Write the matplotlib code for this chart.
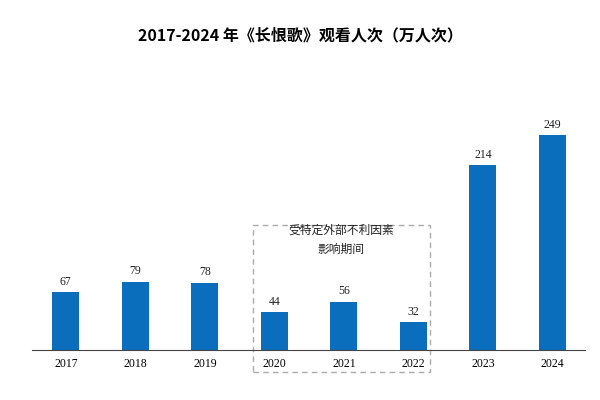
import matplotlib
matplotlib.use("Agg")
import matplotlib.pyplot as plt
from matplotlib.patches import Rectangle
from matplotlib import font_manager as fm
import glob

years = ["2017", "2018", "2019", "2020", "2021", "2022", "2023", "2024"]
values = [67, 79, 78, 44, 56, 32, 214, 249]
title = "2017-2024 年《长恨歌》观看人次（万人次）"
note = "受特定外部不利因素\n影响期间"

cjk_names = [f.name for f in fm.fontManager.ttflist if "CJK" in f.name]
if not cjk_names:
    for p in glob.glob("/usr/share/fonts/**/*CJK*", recursive=True):
        try:
            fm.fontManager.addfont(p)
        except Exception:
            pass
    cjk_names = [f.name for f in fm.fontManager.ttflist if "CJK" in f.name]
pref = [n for n in ["Noto Sans CJK SC", "Noto Sans CJK JP", "Noto Sans CJK TC", "Noto Sans CJK KR"] if n in cjk_names]
cjk = pref[0] if pref else (cjk_names[0] if cjk_names else "DejaVu Sans")

plt.rcParams["font.family"] = ["Liberation Serif", cjk]
fig = plt.figure(figsize=(6, 4), dpi=100)
ax = fig.add_axes([0.053, 0.125, 0.922, 0.648])
x = range(len(years))
ax.bar(x, values, width=0.39, color="#0a6ebd")
for i, v in zip(x, values):
    ax.text(i, v + 5, str(v), ha="center", va="bottom", fontsize=8.5, color="#222")
ax.set_xlim(-0.49, 7.47)
ax.set_ylim(0, 300)
ax.set_xticks(list(x))
ax.set_xticklabels(years, fontsize=8.5)
ax.tick_params(axis="x", length=0, pad=6)
ax.set_yticks([])
for s in ["top", "right", "left"]:
    ax.spines[s].set_visible(False)
ax.spines["bottom"].set_color("#444")
ax.add_patch(Rectangle((2.69, -25.5), 2.55, 170.2, fill=False, ls=(0, (4, 3)),
                       ec="#aaaaaa", lw=1, clip_on=False))
ax.text(3.965, 128, note, ha="center", va="center", fontsize=8.5,
        family=cjk, color="#222", linespacing=1.6)
fig.text(0.5, 0.912, title, ha="center", va="center", fontsize=11.5, fontweight="bold",
         family=cjk)
fig.savefig("out.png")
